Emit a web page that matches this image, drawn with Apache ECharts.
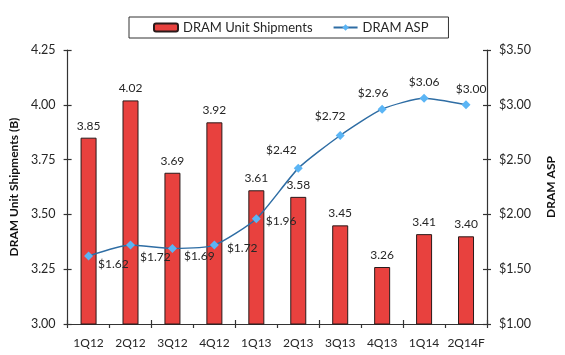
<!DOCTYPE html>
<html>
<head>
<meta charset="utf-8">
<script src="https://cdn.jsdelivr.net/npm/echarts@6/dist/echarts.min.js"></script>
<style>
html,body{margin:0;padding:0;background:#fff;}
#c{width:565px;height:355px;}
</style>
</head>
<body>
<div id="c"></div>
<script>
const categories = ['1Q12','2Q12','3Q12','4Q12','1Q13','2Q13','3Q13','4Q13','1Q14','2Q14F'];
const shipments = [3.85, 4.02, 3.69, 3.92, 3.61, 3.58, 3.45, 3.26, 3.41, 3.40];
const asp = [1.62, 1.72, 1.69, 1.72, 1.96, 2.42, 2.72, 2.96, 3.06, 3.00];
const leftTicks = [3.00, 3.25, 3.50, 3.75, 4.00, 4.25];
const rightTicks = [1.00, 1.50, 2.00, 2.50, 3.00, 3.50];

// label placement for the ASP line (style only)
const aspLabelPlacement = [
  {position:'right', offset:[0,8]},
  {position:'right', offset:[0,12]},
  {position:'right', offset:[2,8]},
  {position:'right', offset:[3,3]},
  {position:'right', offset:[0,2]},
  {position:'top', offset:[-17,-3]},
  {position:'top', offset:[-10,-4]},
  {position:'top', offset:[-9,-1]},
  {position:'top', offset:[0,-1]},
  {position:'top', offset:[5,0]}
];

const FONT = 'Lato';
const TXT = '#262626';
const AX = '#333';

const chart = echarts.init(document.getElementById('c'), null, {renderer:'canvas'});

const yLeftCommon = {
  type:'value', position:'left',
  min: leftTicks[0], max: leftTicks[leftTicks.length-1],
  interval: leftTicks[1]-leftTicks[0],
  splitLine:{show:false}
};
const yRightCommon = {
  type:'value', position:'right',
  min: rightTicks[0], max: rightTicks[rightTicks.length-1],
  interval: rightTicks[1]-rightTicks[0],
  splitLine:{show:false}
};

chart.setOption({
  animation:false,
  textStyle:{fontFamily:FONT},
  legend:{
    left:129, top:17,
    padding:[4,20,4,24],
    itemGap:20,
    itemWidth:24, itemHeight:8,
    borderColor:'#333', borderWidth:1,
    textStyle:{fontFamily:FONT, fontSize:13, color:TXT},
    data:[
      {name:'DRAM Unit Shipments'},
      {name:'DRAM ASP', itemStyle:{color:'#5BB5F5'}}
    ]
  },
  grid:{left:67, right:67, top:50, bottom:31},
  xAxis:[
    {
      type:'category', data:categories, boundaryGap:true,
      axisLine:{lineStyle:{color:AX, width:1.2}},
      axisTick:{show:true, inside:false, length:4, alignWithLabel:false, lineStyle:{color:AX, width:1.2}},
      axisLabel:{fontFamily:FONT, fontSize:12, color:TXT, margin:13, interval:0}
    },
    {
      type:'category', data:categories, boundaryGap:true, position:'bottom',
      axisLine:{show:false},
      axisTick:{show:true, inside:true, length:4, lineStyle:{color:AX, width:1.2}},
      axisLabel:{show:false}
    }
  ],
  yAxis:[
    Object.assign({}, yLeftCommon, {
      name:'DRAM Unit Shipments (B)', nameLocation:'middle', nameGap:46, nameRotate:90,
      nameTextStyle:{fontFamily:FONT, fontSize:12, fontWeight:'bold', color:'#111'},
      axisLine:{show:true, lineStyle:{color:AX, width:1.2}},
      axisTick:{show:true, inside:false, length:4, lineStyle:{color:AX, width:1.2}},
      axisLabel:{fontFamily:FONT, fontSize:12.5, color:TXT, margin:12, formatter:v=>v.toFixed(2)}
    }),
    Object.assign({}, yRightCommon, {
      name:'DRAM ASP', nameLocation:'middle', nameGap:58, nameRotate:90,
      nameTextStyle:{fontFamily:FONT, fontSize:12, fontWeight:'bold', color:'#111'},
      axisLine:{show:true, lineStyle:{color:AX, width:1.2}},
      axisTick:{show:true, inside:false, length:4, lineStyle:{color:AX, width:1.2}},
      axisLabel:{fontFamily:FONT, fontSize:12.5, color:TXT, margin:12, formatter:v=>'$'+v.toFixed(2)}
    }),
    Object.assign({}, yLeftCommon, {
      axisLine:{show:false},
      axisTick:{show:true, inside:true, length:4, lineStyle:{color:AX, width:1.2}},
      axisLabel:{show:false}
    }),
    Object.assign({}, yRightCommon, {
      axisLine:{show:false},
      axisTick:{show:true, inside:true, length:4, lineStyle:{color:AX, width:1.2}},
      axisLabel:{show:false}
    })
  ],
  series:[
    {
      name:'DRAM Unit Shipments', type:'bar', xAxisIndex:0, yAxisIndex:0,
      data:shipments, barWidth:16,
      itemStyle:{color:'#E8413E', borderColor:'#2a1a1a', borderWidth:1},
      label:{show:true, position:'top', distance:6, fontFamily:FONT, fontSize:12, color:TXT,
        formatter:p=>p.value.toFixed(2)},
      z:2
    },
    {
      name:'DRAM ASP', type:'line', xAxisIndex:0, yAxisIndex:1,
      data:asp.map((v,i)=>({value:v, label:aspLabelPlacement[i]})),
      smooth:0.2,
      symbol:'diamond', symbolSize:9,
      lineStyle:{color:'#2E6DA4', width:1.5},
      itemStyle:{color:'#5BB5F5'},
      label:{show:true, distance:5, fontFamily:FONT, fontSize:12, color:TXT,
        formatter:p=>'$'+p.value.toFixed(2)},
      z:3
    }
  ]
});
</script>
</body>
</html>
